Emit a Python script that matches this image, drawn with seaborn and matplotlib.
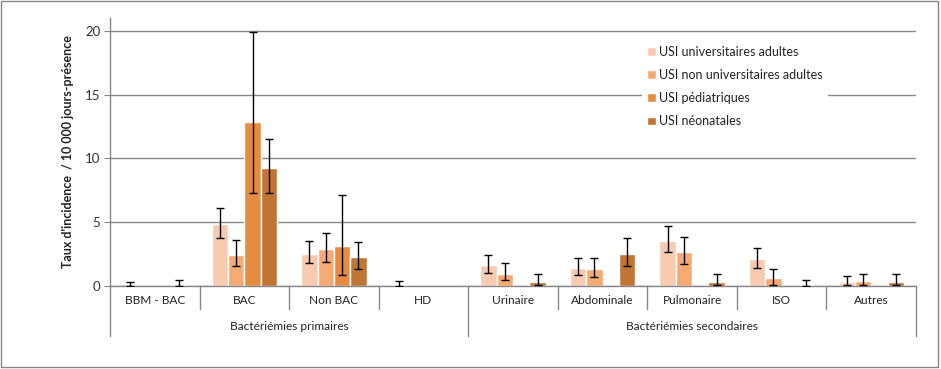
import numpy as np
import pandas as pd
import matplotlib
matplotlib.use("Agg")
import matplotlib.pyplot as plt
import matplotlib.transforms as mtransforms
from matplotlib.patches import Rectangle
import seaborn as sns

nan = np.nan
categories = ["BBM - BAC", "BAC", "Non BAC", "HD", "Urinaire", "Abdominale",
              "Pulmonaire", "ISO", "Autres"]
groups = ["Bactériémies primaires", "Bactériémies secondaires"]
group_sizes = [4, 5]
series = ["USI universitaires adultes", "USI non universitaires adultes",
          "USI pédiatriques", "USI néonatales"]

univ = [0.0, 4.86, 2.51, 0.05, 1.65, 1.41, 3.53, 2.12, 0.31]
nonuniv = [0.0, 2.43, 2.90, 0.0, 0.94, 1.33, 2.67, 0.63, 0.39]
pedia = [0.0, 12.86, 3.14, 0.0, 0.0, 0.0, 0.0, 0.0, 0.0]
neo = [0.08, 9.25, 2.27, 0.0, 0.31, 2.51, 0.31, 0.08, 0.31]

univ_lo = [0.0, 3.74, 1.78, 0.0, 1.00, 0.84, 2.64, 1.39, 0.05]
univ_hi = [0.29, 6.14, 3.50, 0.37, 2.40, 2.17, 4.68, 2.96, 0.76]
nonuniv_lo = [nan, 1.54, 1.86, nan, 0.45, 0.68, 1.70, 0.10, 0.05]
nonuniv_hi = [nan, 3.58, 4.13, nan, 1.78, 2.17, 3.82, 1.31, 0.94]
pedia_lo = [nan, 7.27, 0.84, nan, nan, nan, nan, nan, nan]
pedia_hi = [nan, 19.90, 7.11, nan, nan, nan, nan, nan, nan]
neo_lo = [0.0, 7.27, 1.31, nan, 0.05, 1.54, 0.05, 0.0, 0.05]
neo_hi = [0.45, 11.50, 3.42, nan, 0.92, 3.74, 0.92, 0.45, 0.92]

values = [univ, nonuniv, pedia, neo]
lows = [univ_lo, nonuniv_lo, pedia_lo, neo_lo]
highs = [univ_hi, nonuniv_hi, pedia_hi, neo_hi]
colors = ["#F8CBB1", "#F5AA74", "#E68C42", "#C17535"]

rows = []
for s, vals in zip(series, values):
    for c, v in zip(categories, vals):
        rows.append({"cat": c, "serie": s, "val": v})
df = pd.DataFrame(rows)

sns.set_style("white")
plt.rcParams["font.family"] = ["Lato", "DejaVu Sans"]

fig = plt.figure(figsize=(9.41, 3.69), dpi=100)
ax = fig.add_axes([0.1169, 0.2249, 0.8565, 0.7263])

sns.barplot(data=df, x="cat", y="val", hue="serie", order=categories,
            hue_order=series, palette=colors, width=0.73, errorbar=None,
            saturation=1, ax=ax, legend=True)

# error bars from bar positions
for cont, lo, hi in zip(ax.containers, lows, highs):
    xs = [p.get_x() + p.get_width() / 2 for p in cont.patches]
    hs = [p.get_height() for p in cont.patches]
    lo = np.array(lo, float)
    hi = np.array(hi, float)
    mask = ~np.isnan(lo)
    xs = np.array(xs)[mask]
    hs = np.array(hs)[mask]
    ax.errorbar(xs, hs, yerr=[hs - lo[mask], hi[mask] - hs], fmt="none",
                ecolor="black", elinewidth=1, capsize=2.6, capthick=1, zorder=5)

ax.set_ylim(0, 21)
ax.set_xlim(-0.5, len(categories) - 0.5)
ax.set_yticks([0, 5, 10, 15, 20])
ax.yaxis.grid(True, color="#868686", linewidth=1)
ax.set_axisbelow(True)
for sp in ["top", "right"]:
    ax.spines[sp].set_visible(False)
for sp in ["left", "bottom"]:
    ax.spines[sp].set_color("#868686")
    ax.spines[sp].set_linewidth(1)
ax.tick_params(axis="y", which="major", left=True, length=4, color="#868686",
               labelsize=9.5, labelcolor="#333333", pad=3)
ax.set_xticks([])
ax.set_xlabel("")
ax.set_ylabel("Taux d'incidence  / 10 000 jours-présence", fontsize=9,
              fontweight="bold", labelpad=8)

# category labels and separators below axis
trans = mtransforms.blended_transform_factory(ax.transData, ax.transAxes)
ax_h_px = 0.7263 * 369
def ax_y(px_below):
    return -px_below / ax_h_px

for i, c in enumerate(categories):
    ax.text(i, ax_y(14), c, transform=trans, ha="center", va="center",
            fontsize=8.6, color="#222222")
boundaries_major = [-0.5]
acc = -0.5
for g in group_sizes:
    acc += g
    boundaries_major.append(acc)
for i in range(len(categories) + 1):
    b = i - 0.5
    bottom = ax_y(50) if b in boundaries_major else ax_y(23)
    ax.plot([b, b], [0, bottom], transform=trans, color="#868686", lw=1,
            clip_on=False)
start = -0.5
for g, n in zip(groups, group_sizes):
    ax.text(start + n / 2, ax_y(40), g, transform=trans, ha="center",
            va="center", fontsize=8.6, color="#222222")
    start += n

leg = ax.legend(loc="upper left", bbox_to_anchor=(0.682, 0.889),
                bbox_transform=fig.transFigure, frameon=True, fontsize=9,
                handlelength=0.7, handleheight=0.7, handletextpad=0.3,
                labelspacing=0.89, borderpad=0.4, borderaxespad=0)
leg.get_frame().set_facecolor("white")
leg.get_frame().set_edgecolor("none")
leg.get_frame().set_alpha(1)
for t in leg.get_texts():
    t.set_color("#222222")

fig.add_artist(Rectangle((0.0008, 0.006), 0.9962, 0.992, transform=fig.transFigure,
                         fill=False, edgecolor="#868686", lw=1))

fig.savefig("out.png", dpi=100)
